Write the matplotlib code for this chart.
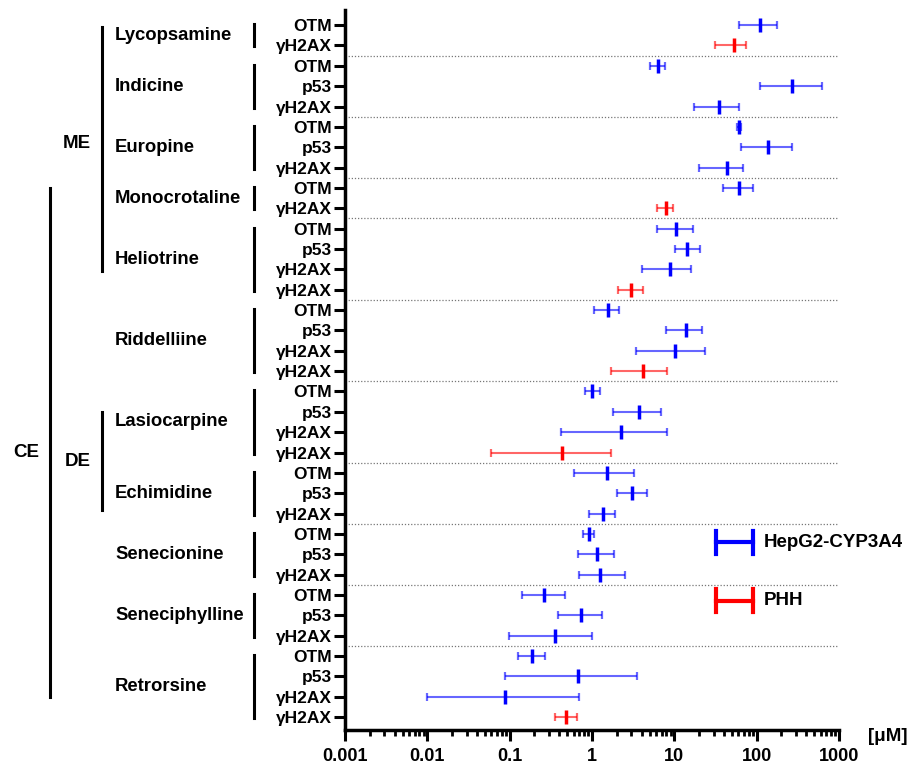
import numpy as np
import matplotlib
matplotlib.use('Agg')
import matplotlib.pyplot as plt
import matplotlib.transforms as mtransforms
from matplotlib.lines import Line2D
from matplotlib.ticker import FixedLocator, LogLocator, NullFormatter

plt.rcParams['font.family'] = ['Liberation Sans', 'DejaVu Sans']
plt.rcParams['font.weight'] = 'bold'

# compounds and how many endpoint rows each one has
compounds = ['Lycopsamine', 'Indicine', 'Europine', 'Monocrotaline', 'Heliotrine',
             'Riddelliine', 'Lasiocarpine', 'Echimidine', 'Senecionine',
             'Seneciphylline', 'Retrorsine']
rows_per_compound = [2, 3, 3, 2, 4, 4, 4, 3, 3, 3, 4]

endpoints = ['OTM', 'γH2AX',
             'OTM', 'p53', 'γH2AX',
             'OTM', 'p53', 'γH2AX',
             'OTM', 'γH2AX',
             'OTM', 'p53', 'γH2AX', 'γH2AX',
             'OTM', 'p53', 'γH2AX', 'γH2AX',
             'OTM', 'p53', 'γH2AX', 'γH2AX',
             'OTM', 'p53', 'γH2AX',
             'OTM', 'p53', 'γH2AX',
             'OTM', 'p53', 'γH2AX',
             'OTM', 'p53', 'γH2AX', 'γH2AX']

# H = HepG2-CYP3A4, P = PHH
cells = ['H', 'P',
         'H', 'H', 'H',
         'H', 'H', 'H',
         'H', 'P',
         'H', 'H', 'H', 'P',
         'H', 'H', 'H', 'P',
         'H', 'H', 'H', 'P',
         'H', 'H', 'H',
         'H', 'H', 'H',
         'H', 'H', 'H',
         'H', 'H', 'H', 'P']

# BMD (µM) with lower / upper confidence limits
bmd = [109, 52.6,
       6.29, 271, 34.6,
       61.7, 137, 43.2,
       61, 8.02,
       10.5, 14.4, 8.8, 2.96,
       1.585, 14.0, 10.3, 4.14,
       1.01, 3.70, 2.28, 0.434,
       1.52, 3.10, 1.36,
       0.93, 1.14, 1.26,
       0.258, 0.74, 0.359,
       0.187, 0.68, 0.088, 0.48]
bmdl = [61.7, 31.2,
        5.13, 111, 17.2,
        58.3, 65.2, 20.2,
        39.4, 6.17,
        6.1, 10.1, 4.06, 2.07,
        1.07, 8.02, 3.43, 1.69,
        0.824, 1.80, 0.415, 0.0586,
        0.607, 2.0, 0.93,
        0.785, 0.67, 0.69,
        0.141, 0.388, 0.098,
        0.127, 0.089, 0.0098, 0.355]
bmdu = [175, 75,
        7.64, 615, 61,
        65.2, 271, 68.2,
        90.2, 9.64,
        17.1, 20.5, 16.1, 4.17,
        2.13, 21.9, 23.8, 8.15,
        1.25, 6.84, 8.15, 1.72,
        3.21, 4.71, 1.9,
        1.07, 1.83, 2.55,
        0.468, 1.32, 1.01,
        0.27, 3.55, 0.70, 0.65]

# class brackets: label, first row, last row, label row
classes = [('ME', 0.1, 12.1, 5.8), ('CE', 8.0, 33.0, 21.0), ('DE', 19.0, 23.8, 21.45)]

colors = {'H': '#0000FF', 'P': '#FF0000'}

fig = plt.figure(figsize=(9.17, 7.65), dpi=100)
ax = fig.add_axes([0.3762, 0.0458, 0.5387, 0.9411])

bmd = np.array(bmd)
bmdl = np.array(bmdl)
bmdu = np.array(bmdu)
rows = np.arange(len(bmd))
cells = np.array(cells)

for c in ['H', 'P']:
    m = cells == c
    ax.errorbar(bmd[m], rows[m], xerr=[bmd[m] - bmdl[m], bmdu[m] - bmd[m]],
                fmt='none', ecolor=colors[c], alpha=0.6, elinewidth=1.5,
                capsize=2.7, capthick=1.6, zorder=3)
    ax.plot(bmd[m], rows[m], linestyle='none', marker='|', markersize=10,
            mew=2.5, color=colors[c], zorder=4)

ax.set_xscale('log')
ax.set_xlim(0.001, 1000)
ax.set_ylim(34.63, -0.74)

ax.xaxis.set_major_locator(FixedLocator([0.001, 0.01, 0.1, 1, 10, 100, 1000]))
ax.set_xticklabels(['0.001', '0.01', '0.1', '1', '10', '100', '1000'])
ax.xaxis.set_minor_locator(LogLocator(base=10, subs=np.arange(2, 10)))
ax.xaxis.set_minor_formatter(NullFormatter())

ax.set_yticks(rows)
ax.set_yticklabels(endpoints)

for s in ['top', 'right']:
    ax.spines[s].set_visible(False)
for s in ['left', 'bottom']:
    ax.spines[s].set_linewidth(2.5)

ax.tick_params(axis='y', which='major', length=8, width=2.2, pad=1.5, labelsize=12.5)
ax.tick_params(axis='x', which='major', length=8, width=2.2, pad=5, labelsize=13)
ax.tick_params(axis='x', which='minor', length=4.5, width=2.0)

# dotted separators between compounds
bounds = np.cumsum(rows_per_compound)[:-1] - 0.5
for b in bounds:
    ax.axhline(b, color='#777777', linestyle=(0, (1, 1.5)), linewidth=0.9, zorder=1)

trans = mtransforms.blended_transform_factory(ax.transAxes, ax.transData)

# compound names and brackets
start = 0
for name, n in zip(compounds, rows_per_compound):
    r0, r1 = start, start + n - 1
    ax.add_line(Line2D([-0.1842, -0.1842], [r0 - 0.05, r1 + 0.05], transform=trans,
                       color='black', linewidth=2.2, clip_on=False))
    ax.text(-0.4656, (r0 + r1) / 2, name, transform=trans, ha='left', va='center',
            fontsize=13.3, fontweight='bold')
    start += n

# class brackets
bracket_x = {'ME': -0.4925, 'DE': -0.4925, 'CE': -0.597}
for lab, r0, r1, rt in classes:
    x = bracket_x[lab]
    ax.add_line(Line2D([x, x], [r0, r1], transform=trans, color='black',
                       linewidth=2.2, clip_on=False))
    ax.text(x - 0.022, rt, lab, transform=trans, ha='right', va='center',
            fontsize=13.5, fontweight='bold')

# legend
for c, y, lab in [('H', 0.261, 'HepG2-CYP3A4'), ('P', 0.1796, 'PHH')]:
    ax.add_line(Line2D([0.751, 0.826], [y, y], transform=ax.transAxes,
                       color=colors[c], linewidth=3, clip_on=False))
    for xe in [0.751, 0.826]:
        ax.add_line(Line2D([xe, xe], [y - 0.016, y + 0.016], transform=ax.transAxes,
                           color=colors[c], linewidth=3, clip_on=False))
    ax.text(0.848, y, lab, transform=ax.transAxes, ha='left', va='center',
            fontsize=13.5, fontweight='bold')

ax.text(1.059, -0.0093, '[μM]', transform=ax.transAxes, ha='left', va='center',
        fontsize=13.5, fontweight='bold')

fig.savefig('out.png', dpi=100)
